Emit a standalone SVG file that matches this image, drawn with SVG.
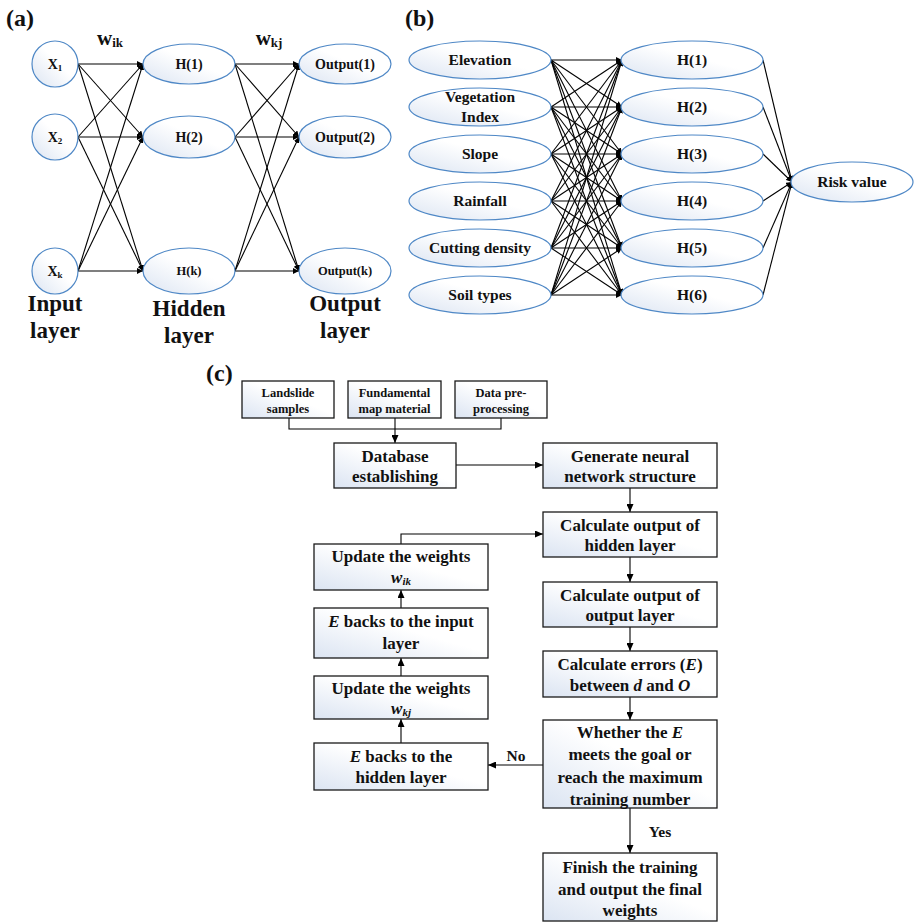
<svg xmlns="http://www.w3.org/2000/svg" width="916" height="923" viewBox="0 0 916 923">
<defs>
<linearGradient id="gf" x1="0" y1="1" x2="1" y2="0">
<stop offset="0" stop-color="#dbe4f2"/>
<stop offset="0.55" stop-color="#ffffff"/>
<stop offset="1" stop-color="#ffffff"/>
</linearGradient>
<marker id="ar" markerUnits="userSpaceOnUse" markerWidth="8" markerHeight="7" refX="8" refY="3.5" orient="auto">
<path d="M0,0 L8,3.5 L0,7 z" fill="#000"/>
</marker>
<marker id="as" markerUnits="userSpaceOnUse" markerWidth="6" markerHeight="6" refX="6" refY="3" orient="auto">
<path d="M0,0 L6,3 L0,6 z" fill="#000"/>
</marker>
</defs>
<style>
text{font-family:"Liberation Serif","Times New Roman",serif;font-weight:bold;fill:#111;text-anchor:middle}
.el{fill:url(#gf);stroke:#4f88c6;stroke-width:1.2}
.bx{fill:url(#gf);stroke:#1a1a1a;stroke-width:1.3}
.cn line,.cn path{stroke:#000;stroke-width:1.1;fill:none}
.ca{marker-end:url(#as)}
.cb{marker-end:url(#ar)}
.t14{font-size:14px}
.t12{font-size:12.5px}
.t15{font-size:15.5px}
.t17{font-size:17px}
.tl{font-size:23px}
.pl{font-size:24px;text-anchor:start}
.it{font-style:italic}
</style>

<!-- panel labels -->
<text class="pl" x="6" y="26">(a)</text>
<text class="pl" x="405" y="26">(b)</text>
<text class="pl" x="206" y="381">(c)</text>

<!-- (a) connectors -->
<g id="a-connectors" class="cn">
<line class="ca" x1="78" y1="64" x2="143" y2="64"/>
<line class="ca" x1="78" y1="64" x2="143" y2="137"/>
<line class="ca" x1="78" y1="64" x2="143" y2="271"/>
<line class="ca" x1="78" y1="137" x2="143" y2="64"/>
<line class="ca" x1="78" y1="137" x2="143" y2="137"/>
<line class="ca" x1="78" y1="137" x2="143" y2="271"/>
<line class="ca" x1="78" y1="271" x2="143" y2="64"/>
<line class="ca" x1="78" y1="271" x2="143" y2="137"/>
<line class="ca" x1="78" y1="271" x2="143" y2="271"/>
<line class="ca" x1="235" y1="64" x2="299" y2="64"/>
<line class="ca" x1="235" y1="64" x2="299" y2="137"/>
<line class="ca" x1="235" y1="64" x2="299" y2="271"/>
<line class="ca" x1="235" y1="137" x2="299" y2="64"/>
<line class="ca" x1="235" y1="137" x2="299" y2="137"/>
<line class="ca" x1="235" y1="137" x2="299" y2="271"/>
<line class="ca" x1="235" y1="271" x2="299" y2="64"/>
<line class="ca" x1="235" y1="271" x2="299" y2="137"/>
<line class="ca" x1="235" y1="271" x2="299" y2="271"/>
</g>

<!-- (a) nodes -->
<g id="a-x1"><circle class="el" cx="55" cy="64" r="23"/><text class="t14" x="55" y="69">X<tspan font-size="9" dy="2">1</tspan></text></g>
<g id="a-x2"><circle class="el" cx="55" cy="137" r="23"/><text class="t14" x="55" y="142">X<tspan font-size="9" dy="2">2</tspan></text></g>
<g id="a-xk"><circle class="el" cx="55" cy="271" r="23"/><text class="t14" x="55" y="276">X<tspan font-size="9" dy="2">k</tspan></text></g>
<g id="a-h1"><ellipse class="el" cx="189" cy="64" rx="46" ry="20"/><text class="t14" x="189" y="69">H(1)</text></g>
<g id="a-h2"><ellipse class="el" cx="189" cy="137" rx="46" ry="21"/><text class="t14" x="189" y="142">H(2)</text></g>
<g id="a-hk"><ellipse class="el" cx="189" cy="271" rx="46" ry="23"/><text class="t12" x="189" y="275">H(k)</text></g>
<g id="a-o1"><ellipse class="el" cx="345" cy="64" rx="46" ry="20"/><text class="t14" x="345" y="69">Output(1)</text></g>
<g id="a-o2"><ellipse class="el" cx="345" cy="137" rx="46" ry="21"/><text class="t14" x="345" y="142">Output(2)</text></g>
<g id="a-ok"><ellipse class="el" cx="345" cy="271" rx="46" ry="23"/><text class="t12" x="345" y="275">Output(k)</text></g>

<!-- (a) labels -->
<text x="110" y="45" font-size="21">w<tspan font-size="13" dy="2">ik</tspan></text>
<text x="269" y="45" font-size="21">w<tspan font-size="13" dy="2">kj</tspan></text>
<text class="tl" x="55" y="311">Input</text>
<text class="tl" x="55" y="338">layer</text>
<text class="tl" x="189" y="316">Hidden</text>
<text class="tl" x="189" y="343">layer</text>
<text class="tl" x="345" y="311">Output</text>
<text class="tl" x="345" y="338">layer</text>

<!-- (b) connectors -->
<g id="b-connectors" class="cn">
<line class="ca" x1="551" y1="60" x2="622" y2="60"/>
<line class="ca" x1="551" y1="60" x2="622" y2="107"/>
<line class="ca" x1="551" y1="60" x2="622" y2="154"/>
<line class="ca" x1="551" y1="60" x2="622" y2="201"/>
<line class="ca" x1="551" y1="60" x2="622" y2="248"/>
<line class="ca" x1="551" y1="60" x2="622" y2="295"/>
<line class="ca" x1="551" y1="107" x2="622" y2="60"/>
<line class="ca" x1="551" y1="107" x2="622" y2="107"/>
<line class="ca" x1="551" y1="107" x2="622" y2="154"/>
<line class="ca" x1="551" y1="107" x2="622" y2="201"/>
<line class="ca" x1="551" y1="107" x2="622" y2="248"/>
<line class="ca" x1="551" y1="107" x2="622" y2="295"/>
<line class="ca" x1="551" y1="154" x2="622" y2="60"/>
<line class="ca" x1="551" y1="154" x2="622" y2="107"/>
<line class="ca" x1="551" y1="154" x2="622" y2="154"/>
<line class="ca" x1="551" y1="154" x2="622" y2="201"/>
<line class="ca" x1="551" y1="154" x2="622" y2="248"/>
<line class="ca" x1="551" y1="154" x2="622" y2="295"/>
<line class="ca" x1="551" y1="201" x2="622" y2="60"/>
<line class="ca" x1="551" y1="201" x2="622" y2="107"/>
<line class="ca" x1="551" y1="201" x2="622" y2="154"/>
<line class="ca" x1="551" y1="201" x2="622" y2="201"/>
<line class="ca" x1="551" y1="201" x2="622" y2="248"/>
<line class="ca" x1="551" y1="201" x2="622" y2="295"/>
<line class="ca" x1="551" y1="248" x2="622" y2="60"/>
<line class="ca" x1="551" y1="248" x2="622" y2="107"/>
<line class="ca" x1="551" y1="248" x2="622" y2="154"/>
<line class="ca" x1="551" y1="248" x2="622" y2="201"/>
<line class="ca" x1="551" y1="248" x2="622" y2="248"/>
<line class="ca" x1="551" y1="248" x2="622" y2="295"/>
<line class="ca" x1="551" y1="295" x2="622" y2="60"/>
<line class="ca" x1="551" y1="295" x2="622" y2="107"/>
<line class="ca" x1="551" y1="295" x2="622" y2="154"/>
<line class="ca" x1="551" y1="295" x2="622" y2="201"/>
<line class="ca" x1="551" y1="295" x2="622" y2="248"/>
<line class="ca" x1="551" y1="295" x2="622" y2="295"/>
<line class="ca" x1="763" y1="60" x2="792" y2="182"/>
<line class="ca" x1="763" y1="107" x2="792" y2="182"/>
<line class="ca" x1="763" y1="154" x2="792" y2="182"/>
<line class="ca" x1="763" y1="201" x2="792" y2="182"/>
<line class="ca" x1="763" y1="248" x2="792" y2="182"/>
<line class="ca" x1="763" y1="295" x2="792" y2="182"/>
</g>

<!-- (b) nodes -->
<g id="b-elevation"><ellipse class="el" cx="480" cy="60" rx="71" ry="19"/><text class="t15" x="480" y="65">Elevation</text></g>
<g id="b-vegetation"><ellipse class="el" cx="480" cy="107" rx="71" ry="19"/><text class="t15" x="480" y="102">Vegetation</text><text class="t15" x="480" y="122">Index</text></g>
<g id="b-slope"><ellipse class="el" cx="480" cy="154" rx="71" ry="19"/><text class="t15" x="480" y="159">Slope</text></g>
<g id="b-rainfall"><ellipse class="el" cx="480" cy="201" rx="71" ry="19"/><text class="t15" x="480" y="206">Rainfall</text></g>
<g id="b-cutting"><ellipse class="el" cx="480" cy="248" rx="71" ry="19"/><text class="t15" x="480" y="253">Cutting density</text></g>
<g id="b-soil"><ellipse class="el" cx="480" cy="295" rx="71" ry="19"/><text class="t15" x="480" y="300">Soil types</text></g>
<g id="b-h1"><ellipse class="el" cx="692" cy="60" rx="71" ry="19"/><text class="t15" x="692" y="65">H(1)</text></g>
<g id="b-h2"><ellipse class="el" cx="692" cy="107" rx="71" ry="19"/><text class="t15" x="692" y="112">H(2)</text></g>
<g id="b-h3"><ellipse class="el" cx="692" cy="154" rx="71" ry="19"/><text class="t15" x="692" y="159">H(3)</text></g>
<g id="b-h4"><ellipse class="el" cx="692" cy="201" rx="71" ry="19"/><text class="t15" x="692" y="206">H(4)</text></g>
<g id="b-h5"><ellipse class="el" cx="692" cy="248" rx="71" ry="19"/><text class="t15" x="692" y="253">H(5)</text></g>
<g id="b-h6"><ellipse class="el" cx="692" cy="295" rx="71" ry="19"/><text class="t15" x="692" y="300">H(6)</text></g>
<g id="b-risk"><ellipse class="el" cx="852" cy="182" rx="61" ry="20"/><text class="t15" x="852" y="187">Risk value</text></g>

<!-- (c) connectors -->
<g id="c-connectors" class="cn">
<path d="M289,418 V429 H501 V418"/>
<path class="cb" d="M395,418 V443"/>
<path class="cb" d="M456,465 H543"/>
<path class="cb" d="M630,488 V512"/>
<path class="cb" d="M630,557 V582"/>
<path class="cb" d="M630,627 V651"/>
<path class="cb" d="M630,697 V720"/>
<path class="cb" d="M630,808 V853"/>
<path class="cb" d="M543,765 H488"/>
<path class="cb" d="M401,743 V719"/>
<path class="cb" d="M401,676 V658"/>
<path class="cb" d="M401,608 V590"/>
<path class="cb" d="M401,544 V534 H543"/>
</g>
<text class="t15" x="516" y="761">No</text>
<text class="t15" x="660" y="837">Yes</text>

<!-- (c) nodes -->
<g id="c-landslide"><rect class="bx" x="242" y="381" width="92" height="37"/><text class="t12" x="288" y="397">Landslide</text><text class="t12" x="288" y="413">samples</text></g>
<g id="c-fundamental"><rect class="bx" x="348" y="381" width="93" height="37"/><text class="t12" x="394.5" y="397">Fundamental</text><text class="t12" x="394.5" y="413">map material</text></g>
<g id="c-preprocess"><rect class="bx" x="455" y="381" width="92" height="37"/><text class="t12" x="501" y="397">Data pre-</text><text class="t12" x="501" y="413">processing</text></g>
<g id="c-database"><rect class="bx" x="334" y="443" width="122" height="45"/><text class="t17" x="395" y="462">Database</text><text class="t17" x="395" y="482">establishing</text></g>
<g id="c-generate"><rect class="bx" x="543" y="443" width="174" height="45"/><text class="t17" x="630" y="462">Generate neural</text><text class="t17" x="630" y="482">network structure</text></g>
<g id="c-hidden"><rect class="bx" x="543" y="512" width="174" height="45"/><text class="t17" x="630" y="531">Calculate output of</text><text class="t17" x="630" y="551">hidden layer</text></g>
<g id="c-output"><rect class="bx" x="543" y="582" width="174" height="45"/><text class="t17" x="630" y="601">Calculate output of</text><text class="t17" x="630" y="621">output layer</text></g>
<g id="c-errors"><rect class="bx" x="543" y="651" width="174" height="46"/><text class="t17" x="630" y="670">Calculate errors (<tspan class="it">E</tspan>)</text><text class="t17" x="630" y="691">between <tspan class="it">d</tspan> and <tspan class="it">O</tspan></text></g>
<g id="c-whether"><rect class="bx" x="543" y="720" width="174" height="88"/><text class="t17" x="630" y="738">Whether the <tspan class="it">E</tspan></text><text class="t17" x="630" y="760">meets the goal or</text><text class="t17" x="630" y="783">reach the maximum</text><text class="t17" x="630" y="805">training number</text></g>
<g id="c-finish"><rect class="bx" x="543" y="853" width="174" height="68"/><text class="t17" x="630" y="873">Finish the training</text><text class="t17" x="630" y="895">and output the final</text><text class="t17" x="630" y="916">weights</text></g>
<g id="c-update-ik"><rect class="bx" x="314" y="544" width="174" height="46"/><text class="t17" x="401" y="562">Update the weights</text><text class="t17" x="401" y="583"><tspan class="it">w</tspan><tspan class="it" font-size="11" dy="2">ik</tspan></text></g>
<g id="c-eback-input"><rect class="bx" x="314" y="608" width="174" height="50"/><text class="t17" x="401" y="627"><tspan class="it">E</tspan> backs to the input</text><text class="t17" x="401" y="649">layer</text></g>
<g id="c-update-kj"><rect class="bx" x="314" y="676" width="174" height="43"/><text class="t17" x="401" y="694">Update the weights</text><text class="t17" x="401" y="714"><tspan class="it">w</tspan><tspan class="it" font-size="11" dy="2">kj</tspan></text></g>
<g id="c-eback-hidden"><rect class="bx" x="314" y="743" width="174" height="47"/><text class="t17" x="401" y="762"><tspan class="it">E</tspan> backs to the</text><text class="t17" x="401" y="783">hidden layer</text></g>
</svg>
